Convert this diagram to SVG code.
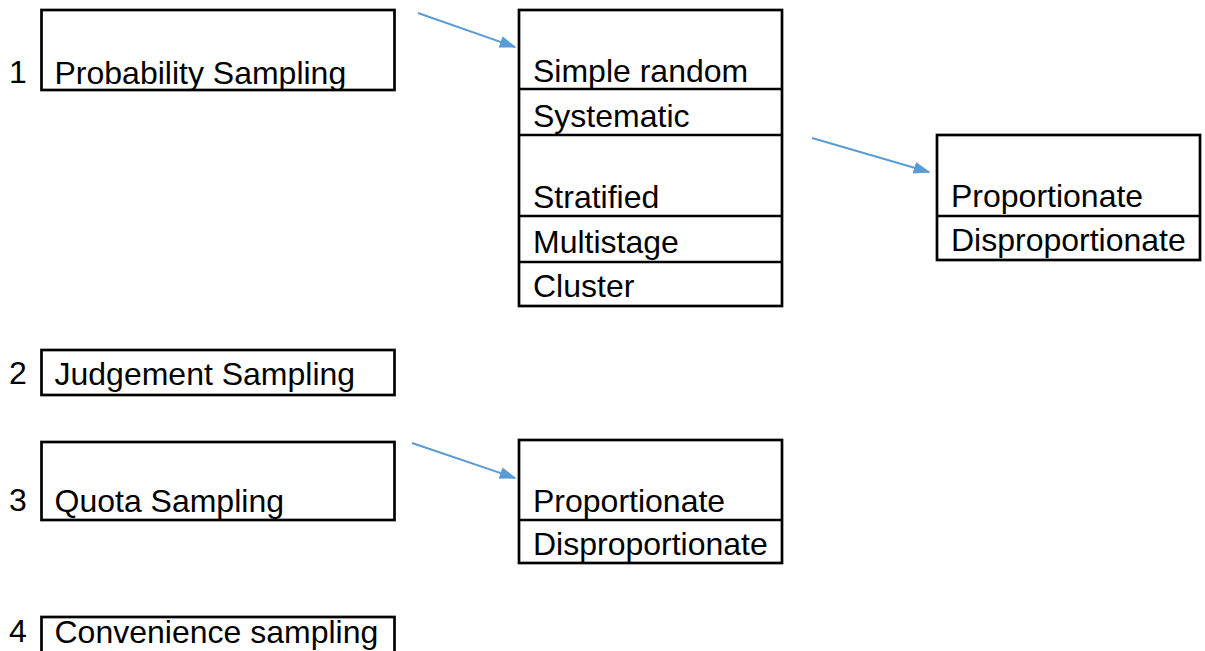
<svg xmlns="http://www.w3.org/2000/svg" width="1205" height="651" viewBox="0 0 1205 651">
  <style>
    .box { fill: #ffffff; stroke: #000000; stroke-width: 2.7; }
    .div { stroke: #000000; stroke-width: 2.3; }
    .t { font-family: "Liberation Sans", Arial, sans-serif; font-size: 32px; fill: #000000; }
    .arrow { stroke: #5B9BD5; stroke-width: 2; fill: none; marker-end: url(#head); }
  </style>
  <defs>
    <marker id="head" viewBox="0 0 10 10" refX="9" refY="5" markerWidth="17" markerHeight="12" markerUnits="userSpaceOnUse" orient="auto" preserveAspectRatio="none">
      <path d="M0,0 L10,5 L0,10 Z" fill="#5B9BD5"/>
    </marker>
  </defs>
  <rect width="1205" height="651" fill="#ffffff"/>

  <!-- numbered categories -->
  <g id="probability">
    <text class="t" x="9" y="83">1</text>
    <rect class="box" x="41.5" y="10" width="353" height="80"/>
    <text class="t" x="54.5" y="84">Probability Sampling</text>
  </g>

  <g id="probability-types">
    <rect class="box" x="519" y="10" width="263" height="296"/>
    <line class="div" x1="519" y1="89" x2="782" y2="89"/>
    <line class="div" x1="519" y1="135" x2="782" y2="135"/>
    <line class="div" x1="519" y1="216" x2="782" y2="216"/>
    <line class="div" x1="519" y1="262" x2="782" y2="262"/>
    <text class="t" x="533" y="82">Simple random</text>
    <text class="t" x="533" y="127">Systematic</text>
    <text class="t" x="533" y="208">Stratified</text>
    <text class="t" x="533" y="253">Multistage</text>
    <text class="t" x="533" y="297">Cluster</text>
  </g>

  <g id="stratified-types">
    <rect class="box" x="937" y="135" width="263" height="125"/>
    <line class="div" x1="937" y1="216" x2="1200" y2="216"/>
    <text class="t" x="951" y="207">Proportionate</text>
    <text class="t" x="951" y="251">Disproportionate</text>
  </g>

  <g id="judgement">
    <text class="t" x="9" y="384">2</text>
    <rect class="box" x="41.5" y="350" width="353" height="45"/>
    <text class="t" x="54.5" y="385">Judgement Sampling</text>
  </g>

  <g id="quota">
    <text class="t" x="9" y="511">3</text>
    <rect class="box" x="41.5" y="442" width="353" height="78"/>
    <text class="t" x="54.5" y="512">Quota Sampling</text>
  </g>

  <g id="quota-types">
    <rect class="box" x="519" y="440" width="263" height="123"/>
    <line class="div" x1="519" y1="520" x2="782" y2="520"/>
    <text class="t" x="533" y="512">Proportionate</text>
    <text class="t" x="533" y="555">Disproportionate</text>
  </g>

  <g id="convenience">
    <text class="t" x="9" y="642">4</text>
    <rect class="box" x="41.5" y="617" width="353" height="45"/>
    <text class="t" x="54.5" y="643">Convenience sampling</text>
  </g>

  <!-- connectors -->
  <g id="connectors">
    <path class="arrow" d="M418,13 L515,47"/>
    <path class="arrow" d="M812,138 L929,172"/>
    <path class="arrow" d="M412,443 L515,478"/>
  </g>
</svg>
